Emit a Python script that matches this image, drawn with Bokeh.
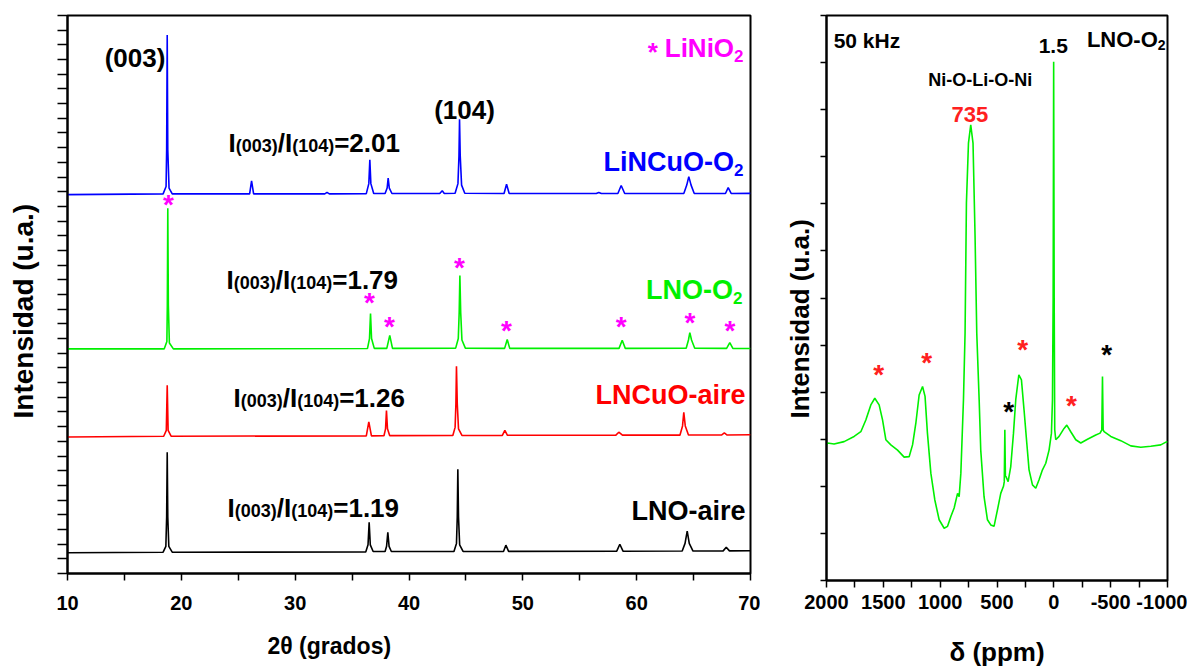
from bokeh.plotting import figure
from bokeh.layouts import row
from bokeh.models import Range1d, FixedTicker, Label, Title, ColumnDataSource, LinearAxis
from bokeh.core.properties import value
from bokeh.embed import file_html
from bokeh.resources import INLINE

FONT = "Liberation Sans"

# ---------------- XRD data (2theta, intensity above each baseline, a.u.) -------------
lno_aire = [(10, -0.04), (18.4, 0), (18.64, 0.4), (18.71, 2.4), (18.76, 6.8), (18.81, 2.4), (18.9, 0.4), (19.2, 0),
            (36.2, 0.02), (36.4, 0.5), (36.5, 2.04), (36.6, 0.5), (36.85, 0.05), (37.9, 0.05), (38.03, 0.4),
            (38.14, 1.36), (38.25, 0.4), (38.45, 0.05), (43.95, 0.05), (44.17, 0.6), (44.24, 2.4), (44.29, 5.65),
            (44.35, 2.4), (44.45, 0.5), (44.75, 0.05), (48.3, 0.05), (48.51, 0.48), (48.75, 0.06), (58.25, 0.07),
            (58.52, 0.54), (58.8, 0.07), (64.0, 0.08), (64.25, 0.6), (64.44, 1.43), (64.62, 0.6), (64.95, 0.08),
            (67.6, 0.09), (67.87, 0.34), (68.15, 0.09), (70, 0.1)]
lncuo_aire = [(10, -0.05), (18.45, 0), (18.68, 0.4), (18.76, 3.47), (18.84, 0.4), (19.1, 0), (36.25, 0.02),
              (36.47, 0.97), (36.7, 0.02), (37.8, 0.03), (37.94, 0.5), (38.02, 1.75), (38.11, 0.5), (38.3, 0.04),
              (43.85, 0.05), (44.05, 0.6), (44.12, 2.2), (44.17, 4.77), (44.24, 2.2), (44.35, 0.5), (44.65, 0.05),
              (48.2, 0.05), (48.42, 0.39), (48.65, 0.06), (58.15, 0.06), (58.43, 0.27), (58.75, 0.07), (63.8, 0.07),
              (64.03, 0.7), (64.14, 1.63), (64.27, 0.7), (64.55, 0.08), (67.45, 0.08), (67.7, 0.22), (67.95, 0.08),
              (70, 0.1)]
lno_o2 = [(10, 0), (18.5, 0), (18.73, 0.5), (18.77, 3.0), (18.81, 9.57), (18.86, 3.0), (18.95, 0.4), (19.3, 0),
          (36.35, 0.02), (36.53, 0.7), (36.62, 2.4), (36.71, 0.7), (36.95, 0.03), (38.05, 0.03), (38.31, 0.92),
          (38.55, 0.03), (44.1, 0.05), (44.33, 0.7), (44.41, 2.5), (44.47, 5.0), (44.54, 2.5), (44.65, 0.6),
          (44.95, 0.05), (48.4, 0.03), (48.63, 0.63), (48.85, 0.03), (58.45, 0.03), (58.73, 0.58), (59.0, 0.03),
          (64.35, 0.04), (64.55, 0.6), (64.67, 1.1), (64.82, 0.6), (65.1, 0.04), (67.9, 0.03), (68.18, 0.42),
          (68.45, 0.03), (70, 0.02)]
lincuo_o2 = [(10, -0.05), (18.4, 0), (18.66, 0.5), (18.71, 3.0), (18.76, 10.83), (18.81, 3.0), (18.92, 0.4),
             (19.2, 0), (26.0, 0), (26.17, 0.89), (26.35, 0), (32.6, 0), (32.8, 0.1), (33.0, 0), (36.25, 0.02),
             (36.47, 0.7), (36.56, 2.32), (36.65, 0.7), (36.9, 0.03), (37.9, 0.03), (38.08, 0.4), (38.17, 1.07),
             (38.27, 0.4), (38.5, 0.03), (42.7, 0.03), (42.92, 0.22), (43.1, 0.03), (44.05, 0.05), (44.3, 0.7),
             (44.39, 2.6), (44.44, 5.09), (44.5, 2.6), (44.62, 0.6), (44.9, 0.05), (48.35, 0.03), (48.57, 0.66),
             (48.8, 0.03), (56.45, 0.03), (56.67, 0.1), (56.9, 0.03), (58.35, 0.03), (58.64, 0.57), (58.95, 0.03),
             (64.15, 0.04), (64.4, 0.6), (64.58, 1.18), (64.78, 0.6), (65.05, 0.04), (67.8, 0.03), (68.04, 0.43),
             (68.3, 0.03), (70, 0.04)]

series_names = ["LNO-aire", "LNCuO-aire", "LNO-O2", "LiNCuO-O2"]
series_data = [lno_aire, lncuo_aire, lno_o2, lincuo_o2]
series_offsets = [1.45, 9.35, 15.3, 25.85]
series_colors = ["#000000", "#ff0000", "#00f000", "#0000ff"]
ratios = ["1.19", "1.26", "1.79", "2.01"]

# LiNiO2 reflections marked with asterisks (2theta, intensity)
lini_ast_x = [18.87, 36.53, 38.29, 44.44, 48.57, 58.64, 64.67, 68.19]
lini_ast_y = [25.14, 18.44, 16.8, 20.84, 16.55, 16.8, 17.08, 16.55]

# ---------------- NMR data (ppm, intensity a.u.) ----------------
nmr = [(2000, 2.88), (1991, 2.92), (1933, 2.9), (1845, 2.95), (1757, 3.06), (1698, 3.16), (1654, 3.41),
       (1610, 3.73), (1575, 3.87), (1537, 3.73), (1507, 3.41), (1478, 2.99), (1434, 2.88), (1375, 2.77),
       (1317, 2.62), (1273, 2.63), (1243, 2.88), (1214, 3.34), (1185, 3.94), (1155, 4.12), (1133, 3.91),
       (1112, 3.13), (1082, 2.28), (1047, 1.71), (1009, 1.29), (965, 1.11), (935, 1.15), (906, 1.36),
       (877, 1.54), (847, 1.85), (833, 1.78), (818, 2.28), (795, 3.84), (781, 5.25), (769, 8.02), (751, 9.29),
       (731, 9.68), (711, 9.29), (693, 7.31), (678, 5.25), (657, 3.84), (643, 2.77), (614, 1.78), (584, 1.29),
       (555, 1.18), (526, 1.15), (496, 1.5), (467, 1.85), (443, 2.0), (436, 2.1), (431, 3.2), (426, 2.2),
       (422, 2.21), (402, 2.1), (379, 2.42), (355, 3.13), (335, 3.84), (308, 4.37), (285, 4.26), (262, 3.62),
       (238, 2.92), (218, 2.35), (188, 2.03), (159, 1.96), (130, 2.14), (100, 2.35), (71, 2.49), (42, 2.77),
       (21, 3.13), (12, 3.84), (6, 6.0), (1.5, 11.02), (-3, 6.0), (-8, 3.2), (-17, 2.99), (-46, 3.06),
       (-90, 3.23), (-114, 3.3), (-149, 3.16), (-193, 2.99), (-237, 2.92), (-296, 3.0), (-369, 3.09),
       (-407, 3.13), (-422, 3.2), (-428, 4.33), (-434, 3.2), (-442, 3.16), (-501, 3.06), (-589, 2.97),
       (-677, 2.86), (-765, 2.83), (-853, 2.85), (-941, 2.88), (-994, 2.95), (-1000, 2.93)]
nmr_red_ast_x = [1540, 1118, 273, -155]
nmr_red_ast_y = [4.37, 4.64, 4.91, 3.72]
nmr_blk_ast_x = [396, -466]
nmr_blk_ast_y = [3.59, 4.80]

x_ticks_xrd = [10, 20, 30, 40, 50, 60, 70]
x_ticks_nmr = [2000, 1500, 1000, 500, 0, -500, -1000]
x_labels_nmr = ["2000", "1500", "1000", "500", "0", "-500", "-1000"]

# ---------------- helpers ----------------
CW = {' ': 278, '(': 333, ')': 333, '-': 333, '.': 278, '/': 278, '=': 584, '*': 389,
      'C': 722, 'H': 722, 'I': 278, 'L': 611, 'N': 722, 'O': 778,
      'a': 556, 'e': 556, 'i': 278, 'k': 556, 'r': 389, 'u': 611, 'z': 500}
for d in "0123456789":
    CW[d] = 556


def tw(t, size):
    return sum(CW.get(c, 556) for c in t) * size / 1000.0


def rich(p, x, y, pieces, color, anchor="left"):
    # pieces: (text, font px, vertical offset px, extra gap px after)
    total = sum(tw(t, s) + g for t, s, dy, g in pieces)
    off = 0 if anchor == "left" else (-total if anchor == "right" else -total / 2)
    for t, s, dy, g in pieces:
        p.add_layout(Label(x=x, y=y, x_offset=off, y_offset=dy, text=t, text_font=FONT,
                           text_font_size=f"{s}px", text_font_style="bold", text_color=color,
                           text_align="left", text_baseline="alphabetic"))
        off += tw(t, s) + g


def style_axes(p):
    p.xgrid.visible = False
    p.ygrid.visible = False
    for ax in p.axis:
        ax.axis_line_width = 2
        ax.axis_line_color = "black"
        ax.major_tick_line_color = "black"
        ax.minor_tick_line_color = "black"
        ax.major_tick_line_width = 1.5
        ax.minor_tick_line_width = 1.5
        ax.major_tick_in = 0
        ax.minor_tick_in = 0
        ax.major_label_text_font = FONT
        ax.major_label_text_font_style = "bold"
        ax.major_label_text_font_size = "20px"
        ax.major_label_text_color = "black"


def hide_labels(ax):
    ax.major_label_text_color = None
    ax.major_label_text_font_size = "1px"
    ax.major_label_standoff = 0


# ---------------- left: XRD ----------------
p1 = figure(frame_width=683, frame_height=558, x_range=Range1d(10, 70), y_range=Range1d(0, 38),
            output_backend="svg", toolbar_location=None,
            min_border_left=67, min_border_top=15, min_border_right=10, min_border_bottom=90,
            outline_line_color="black", outline_line_width=2, background_fill_color="white",
            border_fill_color="white")
style_axes(p1)
p1.xaxis.ticker = FixedTicker(ticks=x_ticks_xrd, minor_ticks=[15, 25, 35, 45, 55, 65])
p1.xaxis.major_tick_out = 7
p1.xaxis.minor_tick_out = 7
p1.xaxis.major_label_standoff = 15
p1.yaxis.ticker = FixedTicker(ticks=list(range(0, 39)), minor_ticks=[])
p1.yaxis.major_tick_out = 10
hide_labels(p1.yaxis[0])

# invisible spacer axis: only reserves room between the tick marks and the y title
spacer = LinearAxis(ticker=FixedTicker(ticks=[0], minor_ticks=[]), axis_line_color=None,
                    major_tick_line_color=None, minor_tick_line_color=None, major_tick_out=17,
                    major_tick_in=0, minor_tick_out=0, minor_tick_in=0)
hide_labels(spacer)
p1.add_layout(spacer, "left")

for name, data, off, col in zip(series_names, series_data, series_offsets, series_colors):
    xs = [a for a, b in data]
    ys = [b + off for a, b in data]
    p1.line(xs, ys, line_color=col, line_width=1.6)

src_ast = ColumnDataSource(dict(x=lini_ast_x, y=lini_ast_y, t=["*"] * len(lini_ast_x)))
p1.text(x="x", y="y", text="t", source=src_ast, text_font=value(FONT), text_font_size="28px",
        text_font_style="bold", text_color="#ff00ff", text_align="center", text_baseline="middle")

rich(p1, 15.93, 35.08, [("(003)", 26, 0, 0)], "black", "center")
rich(p1, 44.88, 31.54, [("(104)", 26, 0, 0)], "black", "center")

ratio_pos = [(24.06, 4.43), (24.58, 11.92), (23.97, 19.96), (24.14, 29.29)]
for (rx, ry), r in zip(ratio_pos, ratios):
    rich(p1, rx, ry, [("I", 26, 0, 0), ("(003)", 18, -3, 0), ("/I", 26, 0, 0), ("(104)", 18, -3, 0),
                      ("=" + r, 26, 0, 0)], "black")

rich(p1, 69.39, 35.76, [("*", 26, -4, 7), ("LiNiO", 26, 0, 0), ("2", 17, -8, 0)], "#ff00ff", "right")
rich(p1, 69.39, 28.02, [("LiNCuO-O", 27, 0, 0), ("2", 17, -8, 0)], "#0000ff", "right")
rich(p1, 69.3, 19.28, [("LNO-O", 27, 0, 0), ("2", 17, -8, 0)], "#00f000", "right")
rich(p1, 69.56, 12.13, [("LNCuO-aire", 27, 0, 0)], "#ff0000", "right")
rich(p1, 69.56, 4.24, [("LNO-aire", 27, 0, 0)], "black", "right")

p1.add_layout(Title(text="2θ (grados)", align="left", offset=200, text_font=FONT,
                    text_font_size="23px", text_font_style="bold", text_color="black", standoff=37), "below")
p1.add_layout(Title(text="Intensidad (u.a.)", align="left", offset=155, text_font=FONT,
                    text_font_size="28px", text_font_style="bold", text_color="black", standoff=4), "left")

# ---------------- right: NMR ----------------
p2 = figure(frame_width=341, frame_height=565, x_range=Range1d(2000, -1000), y_range=Range1d(0, 12),
            output_backend="svg", toolbar_location=None,
            min_border_left=66, min_border_top=12, min_border_right=20, min_border_bottom=92,
            outline_line_color="black", outline_line_width=2, background_fill_color="white",
            border_fill_color="white")
style_axes(p2)
p2.xaxis.ticker = FixedTicker(ticks=x_ticks_nmr, minor_ticks=[1750, 1250, 750, 250, -250, -750])
p2.xaxis.major_label_overrides = dict(zip(x_ticks_nmr, x_labels_nmr))
p2.xaxis.major_tick_out = 7
p2.xaxis.minor_tick_out = 7
p2.xaxis.major_label_standoff = 7
p2.yaxis.ticker = FixedTicker(ticks=list(range(0, 13)), minor_ticks=[])
p2.yaxis.major_tick_out = 6
hide_labels(p2.yaxis[0])

p2.line([a for a, b in nmr], [b for a, b in nmr], line_color="#00f000", line_width=1.6)

src_r = ColumnDataSource(dict(x=nmr_red_ast_x, y=nmr_red_ast_y, t=["*"] * len(nmr_red_ast_x)))
p2.text(x="x", y="y", text="t", source=src_r, text_font=value(FONT), text_font_size="28px",
        text_font_style="bold", text_color="#ff2020", text_align="center", text_baseline="middle")
src_b = ColumnDataSource(dict(x=nmr_blk_ast_x, y=nmr_blk_ast_y, t=["*"] * len(nmr_blk_ast_x)))
p2.text(x="x", y="y", text="t", source=src_b, text_font=value(FONT), text_font_size="28px",
        text_font_style="bold", text_color="black", text_align="center", text_baseline="middle")

rich(p2, 1937, 11.47, [("50 kHz", 21, 0, 0)], "black", "left")
rich(p2, 5, 11.36, [("1.5", 21, 0, 0)], "black", "center")
rich(p2, -291, 11.5, [("LNO-O", 22, 0, 0), ("2", 14, -6, 0)], "black", "left")
rich(p2, 647, 10.63, [("Ni-O-Li-O-Ni", 18, 0, 0)], "black", "center")
rich(p2, 739, 9.9, [("735", 22, 0, 0)], "#ff2020", "center")

p2.add_layout(Title(text="δ (ppm)", align="center", text_font=FONT, text_font_size="26px",
                    text_font_style="bold", text_color="black", standoff=46), "below")
p2.add_layout(Title(text="Intensidad (u.a.)", align="left", offset=162, text_font=FONT,
                    text_font_size="26px", text_font_style="bold", text_color="black", standoff=11), "left")

layout = row(p1, p2)
open("out.html", "w").write(file_html(layout, INLINE))
